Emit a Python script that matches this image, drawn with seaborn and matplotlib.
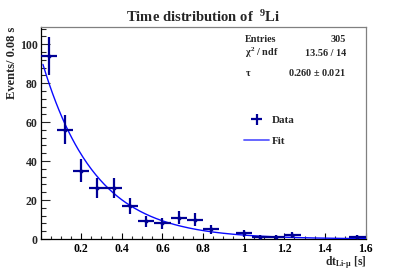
import numpy as np
import pandas as pd
import matplotlib
matplotlib.use("Agg")
import matplotlib.pyplot as plt
from matplotlib.ticker import MultipleLocator
from matplotlib.lines import Line2D
import seaborn as sns

# ---- data ----
bin_width = 0.08
bin_centers = [0.04, 0.12, 0.20, 0.28, 0.36, 0.44, 0.52, 0.60, 0.68, 0.76,
               0.84, 0.92, 1.00, 1.08, 1.16, 1.24, 1.32, 1.40, 1.48, 1.56]
counts = [94, 56, 35, 26, 26, 17, 9, 8, 11, 10,
          5, 0, 3, 1, 1, 2, 0, 0, 0, 1]
entries = 305
chi2_ndf = "13.56 / 14"
tau = 0.260
tau_err = 0.021
x_ticks = [0.2, 0.4, 0.6, 0.8, 1.0, 1.2, 1.4, 1.6]
x_tick_labels = ["0.2", "0.4", "0.6", "0.8", "1", "1.2", "1.4", "1.6"]
y_ticks = [0, 20, 40, 60, 80, 100]

sns.set_theme(style="white")
plt.rcParams["font.family"] = ["Liberation Serif", "DejaVu Serif"]
plt.rcParams["font.weight"] = "bold"
plt.rcParams["mathtext.fontset"] = "custom"
plt.rcParams["mathtext.rm"] = "Liberation Serif:bold"
plt.rcParams["mathtext.it"] = "Liberation Serif:bold"
plt.rcParams["mathtext.bf"] = "Liberation Serif:bold"

DATA_C = "#000096"
FIT_C = "#0a0aff"

fig = plt.figure(figsize=(4.07, 2.70), dpi=100)
ax = fig.add_axes([40.5 / 407, 1 - 239 / 270, 325 / 407, 212 / 270])

df = pd.DataFrame({"t": bin_centers, "n": counts})
df = df[df["n"] > 0]
err = np.sqrt(df["n"].values)

# fit curve
norm = entries * bin_width / tau
fit_t = np.linspace(0.012, 1.6, 300)
fit_df = pd.DataFrame({"t": fit_t, "y": norm * np.exp(-fit_t / tau)})
sns.lineplot(data=fit_df, x="t", y="y", color=FIT_C, lw=1.0, ax=ax, zorder=3)

ax.errorbar(df["t"], df["n"], xerr=bin_width / 2, yerr=err, fmt="none",
            ecolor=DATA_C, elinewidth=1.6, capsize=0, zorder=4)
sns.scatterplot(data=df, x="t", y="n", color=DATA_C, s=8, edgecolor=DATA_C,
                linewidth=0, ax=ax, zorder=5)

ax.set_xlim(0, 1.6)
ax.set_ylim(0, 108.8)
ax.set_xticks(x_ticks)
ax.set_xticklabels(x_tick_labels)
ax.set_yticks(y_ticks)
ax.xaxis.set_minor_locator(MultipleLocator(0.05))
ax.yaxis.set_minor_locator(MultipleLocator(4))
ax.tick_params(axis="x", which="major", direction="in", length=4.5, width=0.8,
               labelsize=8.5, pad=3, colors="black", bottom=True, top=False)
ax.tick_params(axis="x", which="minor", direction="in", length=2.3, width=0.8,
               bottom=True, top=False)
ax.tick_params(axis="y", which="major", direction="in", length=6.5, width=0.8,
               labelsize=8.5, pad=2, left=True, right=False)
ax.tick_params(axis="y", which="minor", direction="in", length=3.3, width=0.8,
               left=True, right=False)
for lab in ax.get_xticklabels() + ax.get_yticklabels():
    lab.set_fontweight("bold")

for s in ["left", "bottom"]:
    ax.spines[s].set_color("black")
    ax.spines[s].set_linewidth(0.9)
for s in ["top", "right"]:
    ax.spines[s].set_color("#808080")
    ax.spines[s].set_linewidth(0.9)

ax.set_xlabel("")
ax.set_ylabel("")

fig.text(0.5, 1 - 17 / 270, r"Time distribution of  $^{9}$Li", ha="center",
         va="center", fontsize=10.5, fontweight="bold")
fig.text(367 / 407, 1 - 265 / 270, r"dt$_{\mathrm{Li\text{-}\mu}}$ [s]",
         ha="right", va="baseline", fontsize=8.3, fontweight="bold")
fig.text(12 / 407, 1 - 27 / 270, "Events/ 0.08 s", rotation=90, ha="center",
         va="top", fontsize=9, fontweight="bold")

# stats box text
sx0, sx1 = 245 / 407, 346 / 407
rows = [("Entries", str(entries), 40),
        (r"$\chi^{2}$ / ndf", chi2_ndf, 53),
        (r"$\tau$", f"{tau:.3f} $\\pm$ {tau_err:.3f}", 73)]
for lbl, val, yy in rows:
    fig.text(sx0, 1 - yy / 270, lbl, ha="left", va="center", fontsize=7.3,
             fontweight="bold")
    fig.text(sx1, 1 - yy / 270, val, ha="right", va="center", fontsize=7.3,
             fontweight="bold")

# legend
h_data = ax.errorbar([], [], xerr=[], yerr=[], fmt="none", ecolor=DATA_C,
                     elinewidth=1.6)
h_fit = Line2D([], [], color="#5a5aff", lw=1.3)
leg = ax.legend([h_data, h_fit], ["Data", "Fit"], loc="upper left",
                bbox_to_anchor=((240 - 40.5) / 325, (239 - 111) / 212),
                frameon=False, fontsize=8, handlelength=2.2,
                handletextpad=0.3, labelspacing=0.95, borderaxespad=0)
for t in leg.get_texts():
    t.set_fontweight("bold")

fig.savefig("out.png", dpi=100)
